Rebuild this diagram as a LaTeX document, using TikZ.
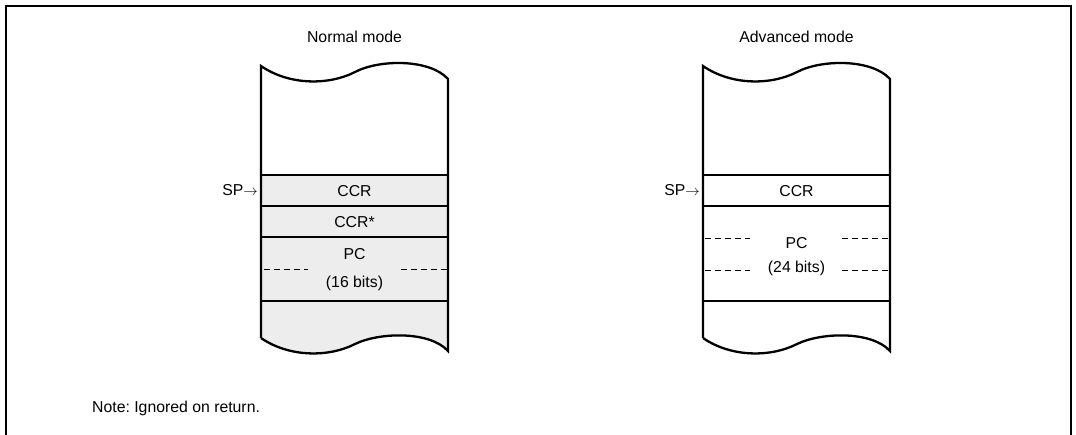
\documentclass[tikz,border=0pt]{standalone}
\usepackage{fontspec}
\setmainfont{Liberation Sans}
\frenchspacing
\begin{document}
\begin{tikzpicture}[x=1pt,y=-1pt,
  lbl/.style={inner sep=0pt,font=\fontsize{15.8}{18}\selectfont},
  stackline/.style={line width=2.3pt},
  dashline/.style={line width=0.9pt,dash pattern=on 6pt off 4pt},
  framel/.style={line width=2pt}]
\useasboundingbox (0,0) rectangle (1076,435);
% outer frame
\draw[framel] (6,436) -- (6,6) -- (1071,6) -- (1071,436);
% ---------- left stack (normal mode)
\fill[gray!14] (261,175) -- (448,175) -- (448,351)
   .. controls (430,331) and (380,332) .. (355,344)
   .. controls (330,357) and (290,358) .. (261,338) -- cycle;
\draw[stackline] (261,338) -- (261,66)
   .. controls (290,86) and (330,85) .. (355,72)
   .. controls (380,59) and (430,59) .. (448,79) -- (448,351)
   .. controls (430,331) and (380,332) .. (355,344)
   .. controls (330,357) and (290,358) .. (261,338);
\foreach \yy in {175,206,237,301} \draw[stackline] (261,\yy) -- (448,\yy);
\draw[dashline] (264,269) -- (308,269);
\draw[dashline] (401,269) -- (447,269);
\node[lbl] (nm) at (354.5,37) {Normal mode};
\node[lbl] (ccr1) at (354.5,191) {CCR};
\node[lbl] (ccr2) at (354.5,222) {CCR*};
\node[lbl] (pc1) at (354.5,254) {PC};
\node[lbl] (pcb1) at (354.5,283) {(16 bits)};
\node[lbl,anchor=east] (sp1) at (258,190) {SP$\rightarrow$};
% ---------- right stack (advanced mode)
\draw[stackline] (703,338) -- (703,66)
   .. controls (732,86) and (772,85) .. (797,72)
   .. controls (822,59) and (872,59) .. (890,79) -- (890,351)
   .. controls (872,331) and (822,332) .. (797,344)
   .. controls (772,357) and (732,358) .. (703,338);
\foreach \yy in {175,206,301} \draw[stackline] (703,\yy) -- (890,\yy);
\draw[dashline] (705,238) -- (750,238);
\draw[dashline] (842,238) -- (889,238);
\draw[dashline] (705,270) -- (750,270);
\draw[dashline] (842,270) -- (889,270);
\node[lbl] (am) at (796.5,37) {Advanced mode};
\node[lbl] (ccr3) at (796.5,191) {CCR};
\node[lbl] (pc2) at (796.5,243) {PC};
\node[lbl] (pcb2) at (796.5,268) {(24 bits)};
\node[lbl,anchor=east] (sp2) at (700,190) {SP$\rightarrow$};
% note
\node[lbl,anchor=west] (note) at (92,408) {Note: Ignored on return.};
\end{tikzpicture}
\end{document}
